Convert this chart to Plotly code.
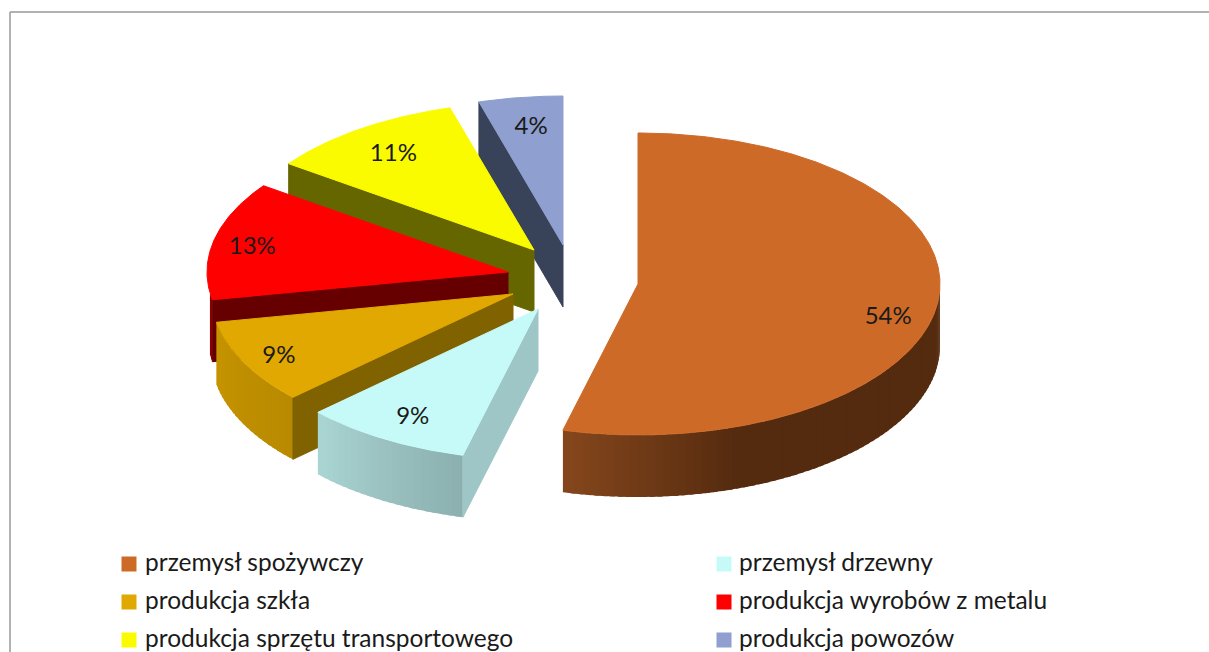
import numpy as np
import plotly.graph_objects as go

# ---- data ----
categories = ["przemysł spożywczy", "przemysł drzewny", "produkcja szkła",
              "produkcja wyrobów z metalu", "produkcja sprzętu transportowego", "produkcja powozów"]
shares = [54.0, 9.0, 9.0, 12.91, 10.6, 4.49]

# ---- styles ----
top_colors = ["#CD6A28", "#C6FAF8", "#E0A800", "#FF0000", "#FBFB00", "#8E9FD0"]
face_colors = ["#552B0F", "#9EC6C6", "#806300", "#660000", "#666600", "#38435A"]
wall_stops = [
    [(90, "#552B0F"), (162, "#552B0F"), (194.4, "#84461C")],
    [(194, "#8AAEAE"), (210, "#99BFBE"), (227, "#A9D5D3")],
    [(226, "#B88900"), (260, "#C69400")],
    [(259, "#8B0000"), (270, "#8B0000")],
    [(0, "#666600"), (360, "#666600")],
    [(0, "#38435A"), (360, "#38435A")],
]
# ---- layout of the exploded pie, in page pixels ----
apex_x = [638, 538, 513, 508, 534, 563]
apex_y = [284, 309, 294, 272, 250, 245]
radius_x = [302, 302, 302, 301, 302, 302]
radius_y = [151, 151, 151, 148, 148, 149]
wall_end = [270, 270, 270, 262, 270, 270]
DEPTH = 62
label_frac = [0.835, 0.815, 0.87, 0.87, 0.807, 0.75]
label_dy = [18, 3, 3, 4, 3, -6]
legend_x = [129, 724]
legend_text_x = [145, 739]
legend_y = [565, 603, 641]
FONT = "Lato"

fig = go.Figure()


def rim(i, t):
    t = np.radians(t)
    return apex_x[i] + radius_x[i] * np.sin(t), apex_y[i] - radius_y[i] * np.cos(t)


def poly(xs, ys, color, edge=1):
    fig.add_trace(go.Scatter(x=list(xs), y=list(ys), mode="lines", fill="toself", fillcolor=color,
                             line=dict(color=color, width=edge), hoverinfo="skip", showlegend=False))


def hex_rgb(h):
    return np.array([int(h[k:k + 2], 16) for k in (1, 3, 5)], float)


def wall_color(i, t):
    st = wall_stops[i]
    ts = [s[0] for s in st]
    rgb = np.array([hex_rgb(s[1]) for s in st])
    c = [np.interp(t, ts, rgb[:, k]) for k in range(3)]
    return "rgb(%d,%d,%d)" % tuple(round(v) for v in c)


edges = np.concatenate([[0], np.cumsum(shares)]) * 3.6

# back-most slice first, so nearer slices cover it
for i in reversed(range(len(shares))):
    a, b = edges[i], edges[i + 1]
    # outer wall (only the part facing the viewer); strips overlap to hide seams
    lo, hi = max(a, 90), min(b, wall_end[i])
    if hi > lo:
        n = max(2, int((hi - lo) / 1.5))
        ts = np.linspace(lo, hi, n + 1)
        step = ts[1] - ts[0]
        for t0, t1 in zip(ts[:-1], ts[1:]):
            ta = max(lo, t0 - step * 0.6)
            x0, y0 = rim(i, ta)
            x1, y1 = rim(i, t1)
            poly([x0, x1, x1, x0, x0], [y0, y1, y1 + DEPTH, y0 + DEPTH, y0],
                 wall_color(i, (t0 + t1) / 2), edge=0)
    # cut face on the clockwise-start edge (visible on the left half)
    if a >= 180:
        xr, yr = rim(i, a)
        ax, ay = apex_x[i], apex_y[i]
        poly([ax, xr, xr, ax, ax], [ay, yr, yr + DEPTH, ay + DEPTH, ay], face_colors[i])
    # top surface
    ts = np.linspace(a, b, max(3, int(b - a) * 2))
    xs, ys = rim(i, ts)
    poly(np.r_[apex_x[i], xs, apex_x[i]], np.r_[apex_y[i], ys, apex_y[i]], top_colors[i])

# percentage labels
mids = (edges[:-1] + edges[1:]) / 2
lx, ly = [], []
for i, m in enumerate(mids):
    t = np.radians(m)
    lx.append(apex_x[i] + label_frac[i] * radius_x[i] * np.sin(t))
    ly.append(apex_y[i] - label_frac[i] * radius_y[i] * np.cos(t) + label_dy[i])
fig.add_trace(go.Scatter(x=lx, y=ly, mode="text", text=[f"{v:.0f}%" for v in shares],
                         textposition="middle center", hoverinfo="skip", showlegend=False,
                         textfont=dict(family=FONT, size=24, color="#1a1a1a")))

# legend, two columns, row by row
for i, c in enumerate(categories):
    col, row = i % 2, i // 2
    fig.add_trace(go.Scatter(x=[legend_x[col]], y=[legend_y[row] - 1], mode="markers",
                             marker=dict(symbol="square", size=15, color=top_colors[i]),
                             hoverinfo="skip", showlegend=False))
    fig.add_trace(go.Scatter(x=[legend_text_x[col]], y=[legend_y[row]], mode="text", text=[c],
                             textposition="middle right", hoverinfo="skip", showlegend=False,
                             textfont=dict(family=FONT, size=24.5, color="#1a1a1a")))

fig.update_layout(
    width=1209, height=652, margin=dict(l=0, r=0, t=0, b=0),
    paper_bgcolor="white", plot_bgcolor="white",
    xaxis=dict(range=[0, 1209], visible=False, fixedrange=True),
    yaxis=dict(range=[652, 0], visible=False, fixedrange=True),
    shapes=[
        dict(type="line", x0=10, x1=1209, y0=12, y1=12, line=dict(color="#999999", width=1.5)),
        dict(type="line", x0=10, x1=10, y0=12, y1=652, line=dict(color="#999999", width=1.5)),
    ],
)
fig.write_html("out.html", config={"displayModeBar": False},
               post_script="document.body.style.margin='0';document.body.style.overflow='hidden';")
